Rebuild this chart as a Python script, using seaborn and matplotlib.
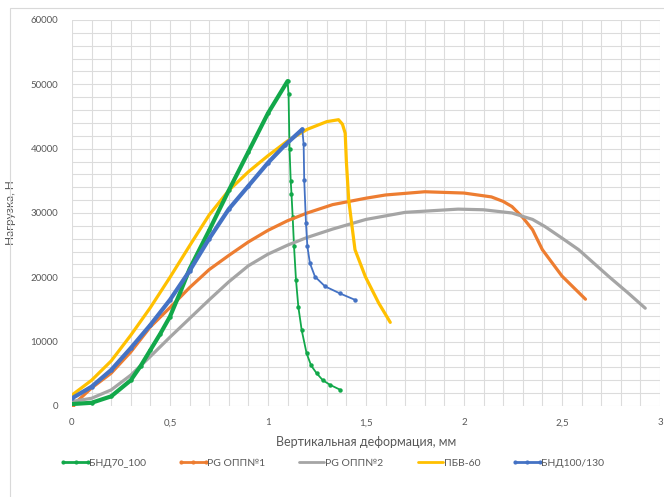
import numpy as np
import pandas as pd
import matplotlib
matplotlib.use("Agg")
import matplotlib.pyplot as plt
import seaborn as sns
from matplotlib.ticker import MultipleLocator, FuncFormatter
from matplotlib.patches import Rectangle

# --- data (x: mm, y: N) ---
bnd70_x = [0, 0.1, 0.2, 0.3, 0.35, 0.4, 0.45, 0.5, 0.55, 0.6, 0.7, 0.8, 0.9, 1.0, 1.1,
           1.105, 1.11, 1.116, 1.12, 1.126, 1.133, 1.143, 1.155, 1.172, 1.197, 1.22, 1.248, 1.28, 1.316, 1.37]
bnd70_y = [300, 500, 1500, 4000, 6200, 8700, 11200, 13900, 17500, 21300, 27300, 33500, 39500, 45500, 50500,
           48500, 40000, 35000, 33000, 29400, 24800, 19600, 15400, 11800, 8200, 6300, 5100, 4000, 3300, 2500]
bnd70_peak = 14

opp1_x = [0, 0.1, 0.2, 0.3, 0.4, 0.5, 0.6, 0.7, 0.8, 0.9, 1.0, 1.1, 1.2, 1.33, 1.5, 1.6, 1.8,
          2.0, 2.14, 2.2, 2.245, 2.3, 2.35, 2.4, 2.5, 2.62]
opp1_y = [0, 2800, 5100, 8400, 12300, 15300, 18400, 21200, 23400, 25500, 27300, 28800, 30000, 31300,
          32300, 32800, 33300, 33100, 32500, 31800, 31000, 29300, 27400, 24300, 20200, 16600]

opp2_x = [0, 0.1, 0.2, 0.3, 0.4, 0.5, 0.6, 0.7, 0.8, 0.9, 1.0, 1.1, 1.2, 1.33, 1.5, 1.7, 1.97,
          2.1, 2.245, 2.35, 2.413, 2.5, 2.585, 2.74, 2.84, 2.925]
opp2_y = [700, 1200, 2500, 4800, 7700, 10700, 13600, 16500, 19300, 21800, 23600, 25000, 26200, 27500,
          29000, 30100, 30600, 30500, 30000, 29000, 27900, 26100, 24300, 20100, 17500, 15200]

pbv_x = [0, 0.1, 0.2, 0.3, 0.4, 0.5, 0.6, 0.7, 0.8, 0.9, 1.0, 1.1, 1.2, 1.3, 1.36, 1.38, 1.394,
         1.40, 1.412, 1.444, 1.497, 1.565, 1.624]
pbv_y = [1700, 4000, 7000, 11000, 15300, 20000, 24900, 29700, 33500, 36400, 38900, 41200, 43000, 44200,
         44500, 43800, 42400, 38000, 32000, 24300, 20100, 16000, 13000]

bnd100_x = [0, 0.1, 0.2, 0.3, 0.4, 0.5, 0.6, 0.7, 0.8, 0.9, 1.0, 1.085, 1.175,
            1.182, 1.185, 1.194, 1.201, 1.214, 1.24, 1.291, 1.367, 1.444]
bnd100_y = [1200, 3000, 5600, 9000, 12600, 16500, 21000, 26000, 30600, 34200, 37800, 40500, 43000,
            40700, 35100, 28400, 24800, 22200, 20100, 18600, 17500, 16500]
bnd100_peak = 12

series = [
    ("БНД70_100", bnd70_x, bnd70_y, "#12A84A", "o"),
    ("PG ОПП№1", opp1_x, opp1_y, "#ED7D31", "o"),
    ("PG ОПП№2", opp2_x, opp2_y, "#A5A5A5", None),
    ("ПБВ-60", pbv_x, pbv_y, "#FFC000", None),
    ("БНД100/130", bnd100_x, bnd100_y, "#4472C4", "o"),
]

sns.set_theme(style="white")
plt.rcParams['font.family'] = ['Lato', 'DejaVu Sans']

fig = plt.figure(figsize=(6.64, 4.97), dpi=100)
ax = fig.add_axes([0.1084, 0.1831, 0.8855, 0.7767])

grey_txt = "#595959"
for name, xs, ys, col, mk in series:
    df = pd.DataFrame({"x": xs, "y": ys})
    thin = name in ("БНД70_100", "БНД100/130")
    if thin:
        kw = dict(lw=1.3, marker=mk, markersize=3.2, markeredgewidth=0)
    elif mk:
        kw = dict(lw=2.3, marker=mk, markersize=4, markeredgewidth=0, markevery=[0])
    else:
        kw = dict(lw=2.3)
    sns.lineplot(data=df, x="x", y="y", ax=ax, sort=False, estimator=None,
                 color=col, solid_joinstyle="round", label=name, **kw)

# rising part of the two marker-dense curves looks thick
ax.plot(bnd70_x[:bnd70_peak + 1], bnd70_y[:bnd70_peak + 1], color="#12A84A", lw=3,
        solid_capstyle="round", solid_joinstyle="round")
ax.plot(bnd100_x[:bnd100_peak + 1], bnd100_y[:bnd100_peak + 1], color="#4472C4", lw=3,
        solid_capstyle="round", solid_joinstyle="round")

ax.set_xlim(0, 3)
ax.set_ylim(0, 60000)
ax.xaxis.set_major_locator(MultipleLocator(0.5))
ax.xaxis.set_minor_locator(MultipleLocator(0.1))
ax.yaxis.set_major_locator(MultipleLocator(10000))
ax.yaxis.set_minor_locator(MultipleLocator(2000))
ax.xaxis.set_major_formatter(FuncFormatter(lambda v, p: f"{v:g}".replace(".", ",")))
ax.yaxis.set_major_formatter(FuncFormatter(lambda v, p: f"{v:.0f}"))
ax.grid(which="both", color="#dcdcdc", lw=0.8)
ax.set_axisbelow(True)
for s in ax.spines.values():
    s.set_visible(False)
ax.tick_params(axis="both", which="both", length=0, labelsize=7, labelcolor=grey_txt)
ax.tick_params(axis="x", pad=9)
ax.tick_params(axis="y", pad=10)

ax.set_xlabel("Вертикальная деформация, мм", fontsize=9, color=grey_txt, labelpad=6)
ax.set_ylabel("Нагрузка, Н", fontsize=8.5, color=grey_txt, labelpad=10)

handles, labels = ax.get_legend_handles_labels()
leg = ax.legend(handles[:5], labels[:5], loc="center", bbox_to_anchor=(0.445, -0.148), ncol=5,
                frameon=False, fontsize=7.5, handlelength=2.4, handletextpad=0.1, columnspacing=3.3)
for t in leg.get_texts():
    t.set_color(grey_txt)
for h in leg.get_lines():
    h.set_linewidth(2)
    h.set_marker("o" if h.get_color() in ("#12A84A", "#ED7D31", "#4472C4") else "")
    h.set_markevery(None)
    h.set_markersize(3)

fig.patches.append(Rectangle((0.015, -0.01), 1.0, 1 - 8 / 497 + 0.01, transform=fig.transFigure,
                             fill=False, edgecolor="#d9d9d9", lw=0.8))

fig.savefig("out.png", dpi=100)
